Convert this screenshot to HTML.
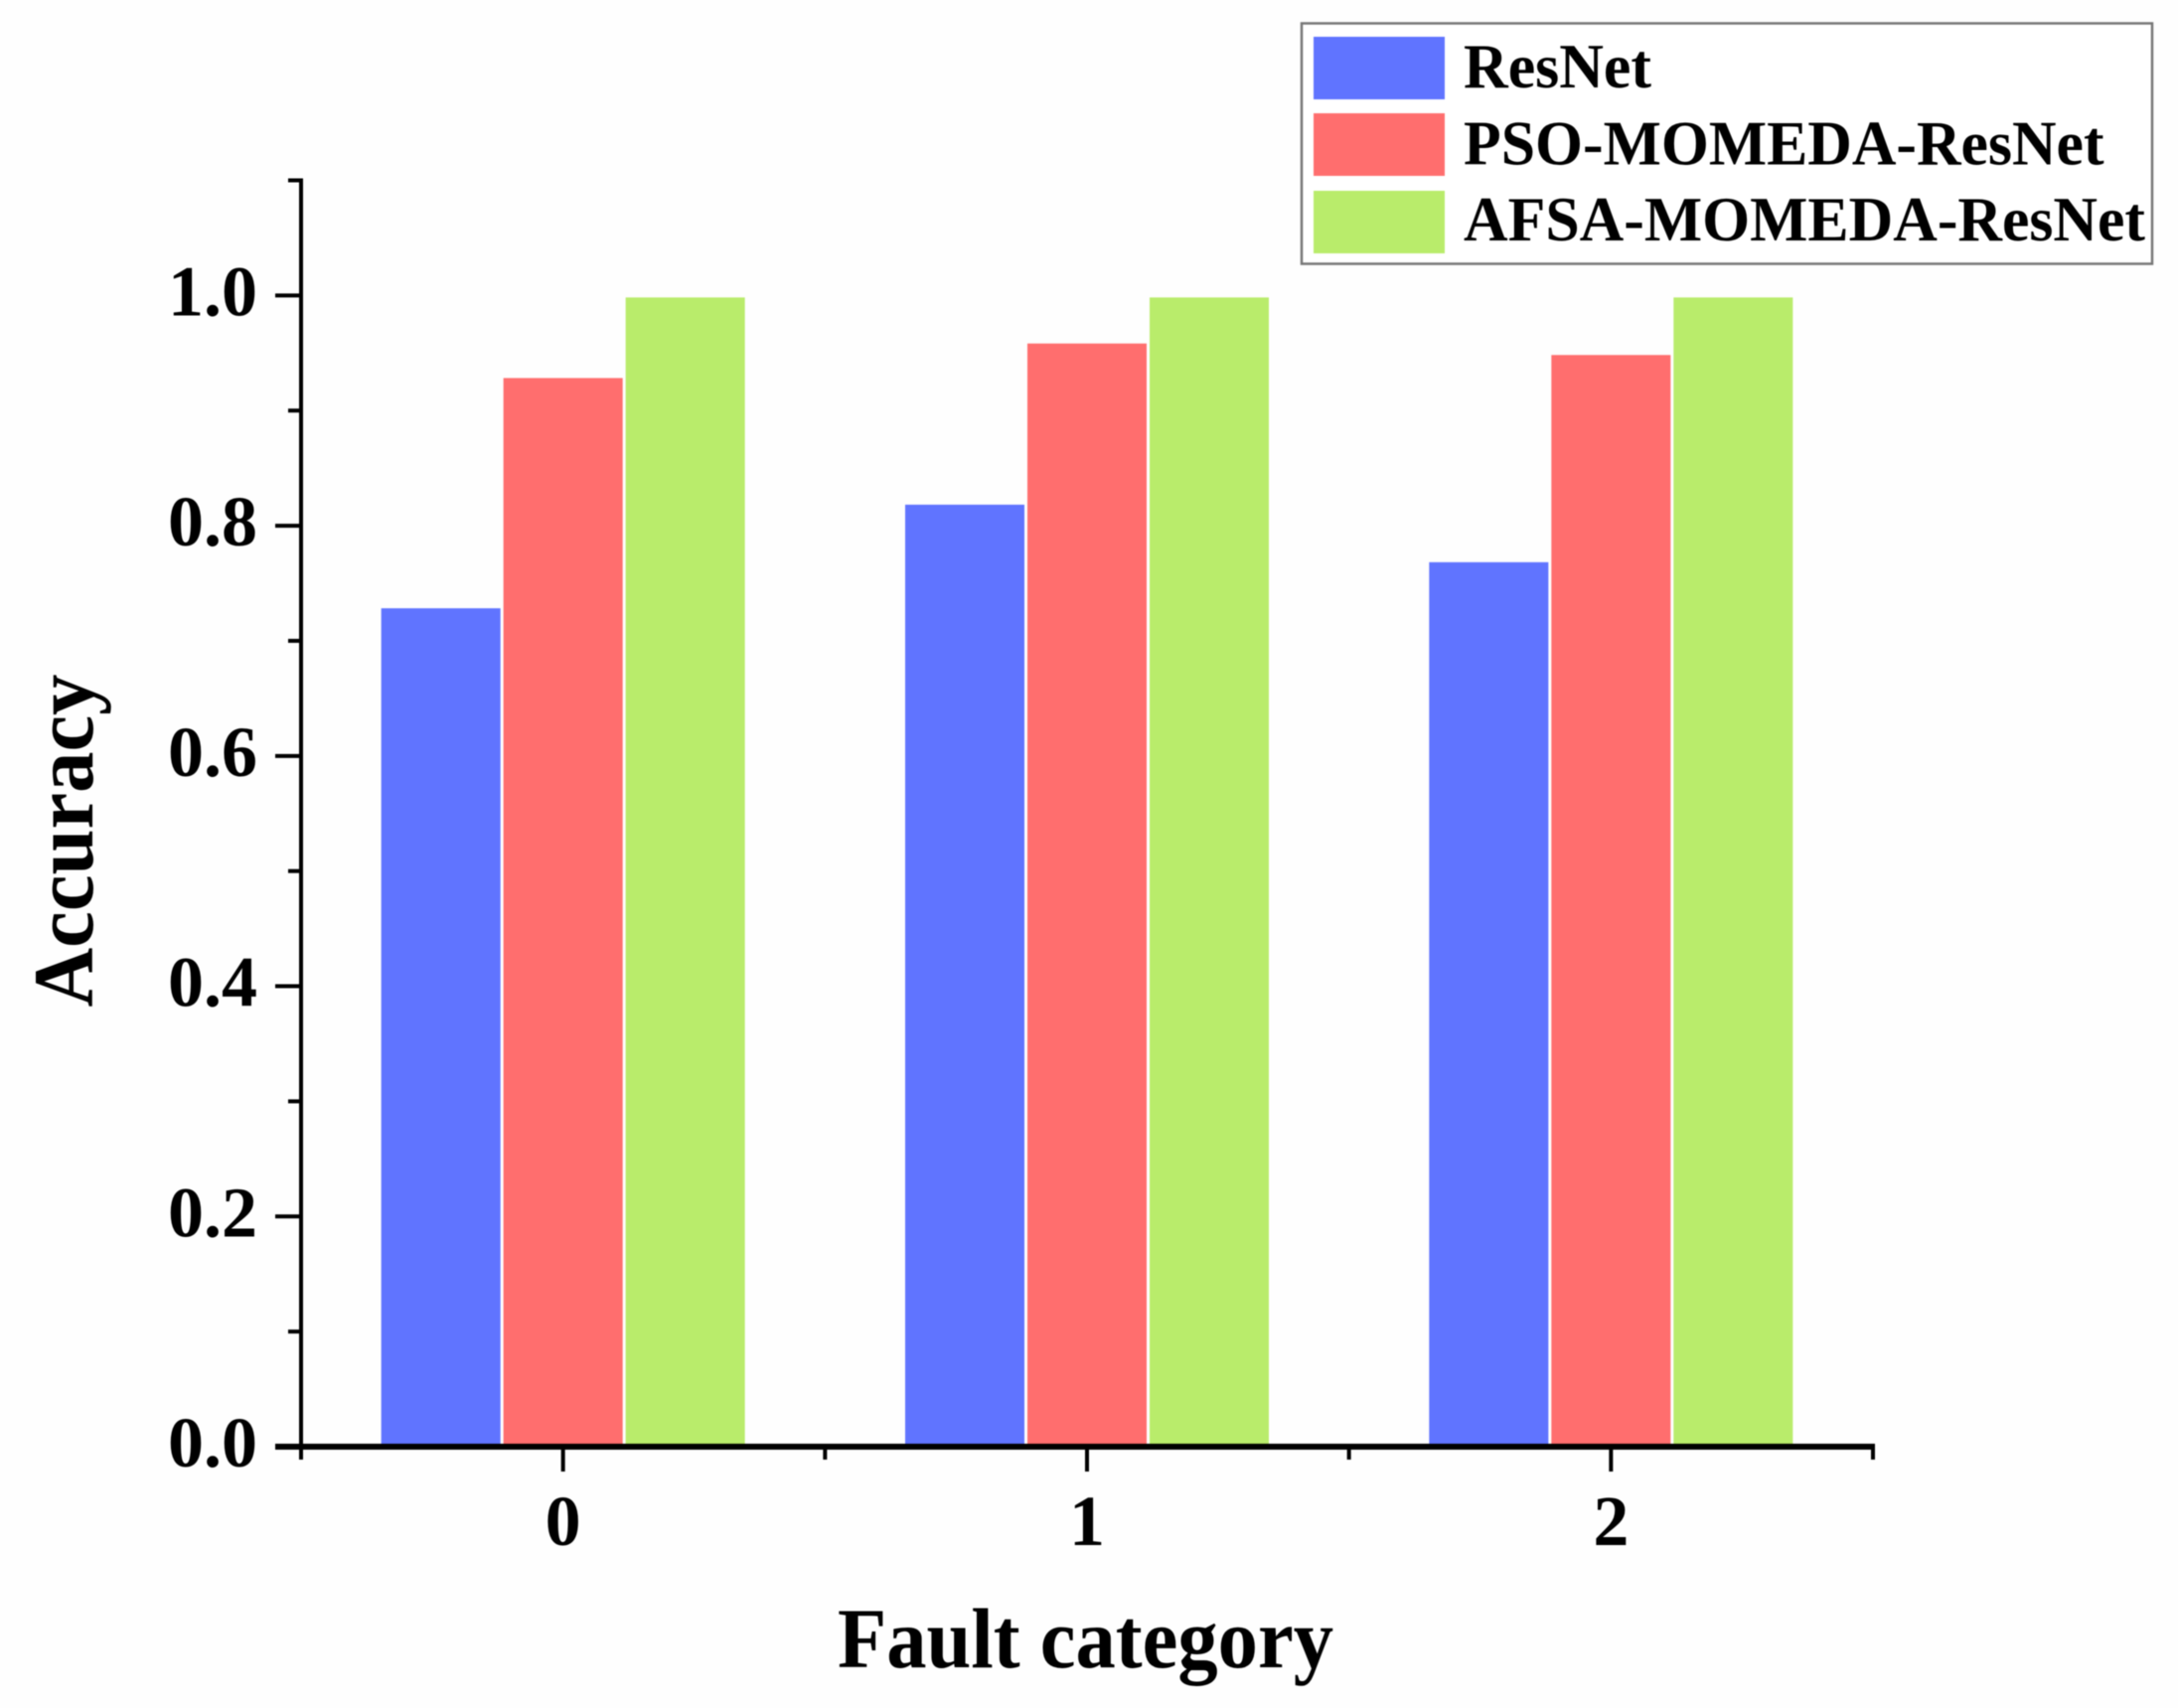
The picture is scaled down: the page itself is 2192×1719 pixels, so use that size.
<!DOCTYPE html>
<html lang="en">
<head>
<meta charset="utf-8">
<title>Accuracy by fault category</title>
<style>
html,body{margin:0;padding:0;background:#fefefe;}
svg{display:block;filter:blur(0.6px);}
text{font-family:"Liberation Serif",serif;font-weight:bold;fill:#000;}
</style>
</head>
<body>
<svg id="chart" xmlns="http://www.w3.org/2000/svg" width="2192" height="1719" viewBox="0 0 2192 1719">
<rect x="0" y="0" width="2192" height="1719" fill="#fefefe"/>
<g id="bars"></g>
<g id="axes"></g>
<text x="0" y="0" font-size="86" text-anchor="middle" textLength="335" lengthAdjust="spacingAndGlyphs" transform="translate(93 846) rotate(-90)">Accuracy</text>
<text x="1092.5" y="1678" font-size="86" text-anchor="middle" textLength="499" lengthAdjust="spacingAndGlyphs">Fault category</text>
<g>
<rect x="1310" y="23.5" width="856" height="242" fill="#fff" stroke="#777" stroke-width="2.5"/>
<g>
<rect x="1322" y="37" width="132" height="63" fill="#6074ff"/>
<text x="1473" y="88" font-size="63" textLength="189" lengthAdjust="spacingAndGlyphs">ResNet</text>
</g>
<g>
<rect x="1322" y="114" width="132" height="63" fill="#ff6e6e"/>
<text x="1473" y="165.5" font-size="63" textLength="644.5" lengthAdjust="spacingAndGlyphs">PSO-MOMEDA-ResNet</text>
</g>
<g>
<rect x="1322" y="192" width="132" height="63" fill="#b9ec6b"/>
<text x="1473" y="242" font-size="63" textLength="686" lengthAdjust="spacingAndGlyphs">AFSA-MOMEDA-ResNet</text>
</g>
</g>
</svg>
<script>
const categories = ['0', '1', '2'];
const resnetValues = [0.73, 0.82, 0.77];
const psoValues = [0.93, 0.96, 0.95];
const afsaValues = [1.0, 1.0, 1.0];
const yMajorTicks = [0, 0.2, 0.4, 0.6, 0.8, 1.0];
const yMinorTicks = [0.1, 0.3, 0.5, 0.7, 0.9, 1.1];
const xMajorTicks = [0, 1, 2];
const xMinorTicks = [-0.5, 0.5, 1.5, 2.5];

const NS = 'http://www.w3.org/2000/svg';
const xLeft = 303, xRight = 1885, yBottom = 1456, yTop = 181.5;
const xMin = -0.5, xMax = 2.5, yMin = 0, yMax = 1.1;
const barW = 120, barGap = 3, barTopInset = 2;
function xScale(v) { return xLeft + (v - xMin) / (xMax - xMin) * (xRight - xLeft); }
function yScale(v) { return yBottom - (v - yMin) / (yMax - yMin) * (yBottom - yTop); }

const barsG = document.getElementById('bars');
const axesG = document.getElementById('axes');

function drawSeries(values, seriesIndex, color, seriesName) {
  values.forEach(function (v, i) {
    const r = document.createElementNS(NS, 'rect');
    const cx = xScale(i) + (seriesIndex - 1) * (barW + barGap);
    r.setAttribute('x', cx - barW / 2);
    r.setAttribute('y', yScale(v) + barTopInset);
    r.setAttribute('width', barW);
    r.setAttribute('height', yScale(0) - yScale(v) - barTopInset);
    r.setAttribute('fill', color);
    
    
    barsG.appendChild(r);
  });
}
drawSeries(resnetValues, 0, '#6074ff', 'resnet');
drawSeries(psoValues, 1, '#ff6e6e', 'pso');
drawSeries(afsaValues, 2, '#b9ec6b', 'afsa');

function line(x1, y1, x2, y2, w, name) {
  const l = document.createElementNS(NS, 'line');
  l.setAttribute('x1', x1);
  l.setAttribute('y1', y1);
  l.setAttribute('x2', x2);
  l.setAttribute('y2', y2);
  l.setAttribute('stroke', '#000');
  l.setAttribute('stroke-width', w);
  
  
  axesG.appendChild(l);
}
function label(x, y, str, anchor, name) {
  const t = document.createElementNS(NS, 'text');
  t.setAttribute('x', x);
  t.setAttribute('y', y);
  t.setAttribute('font-size', '72');
  t.setAttribute('text-anchor', anchor);
  t.textContent = str;
  
  
  axesG.appendChild(t);
}

line(xLeft, yTop - 2, xLeft, yBottom, 4, 'y-axis-line');
line(xLeft - 26, yBottom, xRight + 2, yBottom, 6, 'x-axis-line');

yMajorTicks.forEach(function (v) {
  if (v !== 0) line(xLeft - 26, yScale(v), xLeft, yScale(v), 4, 'y-major-tick');
  label(259, yScale(v) + 20, v.toFixed(1), 'end', 'y-tick-label');
});
yMinorTicks.forEach(function (v) {
  line(xLeft - 13, yScale(v), xLeft, yScale(v), 4, 'y-minor-tick');
});
xMajorTicks.forEach(function (v, i) {
  line(xScale(v), yBottom, xScale(v), yBottom + 25, 4, 'x-major-tick');
  label(xScale(v), 1555, categories[i], 'middle', 'x-tick-label');
});
xMinorTicks.forEach(function (v) {
  line(xScale(v), yBottom, xScale(v), yBottom + 13, 4, 'x-minor-tick');
});
</script>
</body>
</html>
